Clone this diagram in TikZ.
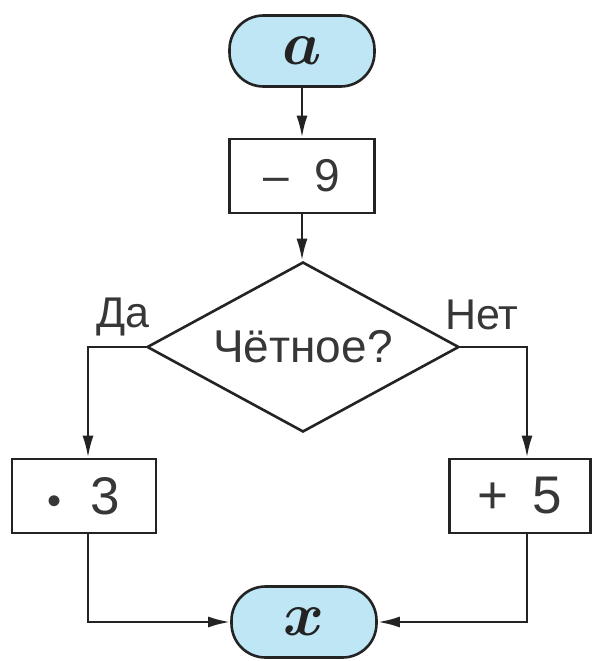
\documentclass[tikz,border=0pt]{standalone}
\usepackage{fontspec}
\setmainfont{Liberation Sans}
\usepackage{amsmath}
\usetikzlibrary{arrows.meta,shapes.geometric}
\definecolor{termfill}{RGB}{190,230,244}
\definecolor{ink}{RGB}{35,35,35}
\definecolor{txt}{RGB}{55,55,55}
\begin{document}
\begin{tikzpicture}[x=1pt,y=-1pt,
  line/.style={draw=ink,line width=2.6pt},
  arr/.style={line,-{Latex[length=22pt,width=11pt]}},
  term/.style={draw=ink,line width=2.6pt,fill=termfill,rounded corners=34pt,
    minimum width=145pt,minimum height=71pt,inner sep=0pt,text=ink},
  opbox/.style={draw=ink,line width=2.6pt,fill=white,minimum height=74pt,inner sep=0pt,text=txt},
  cond/.style={diamond,draw=ink,line width=2.6pt,aspect=1.835,minimum width=312pt,
    minimum height=170pt,inner sep=0pt,font=\fontsize{46}{46}\selectfont,text=txt},
  lbl/.style={font=\fontsize{43}{43}\selectfont,text=txt,inner sep=0pt,anchor=base}]
\useasboundingbox (0,0) rectangle (594,661);

\node[term] (a) at (302,51) {\scalebox{6.2}{$\boldsymbol{a}$}};
\node[opbox,minimum width=145pt,font=\fontsize{46}{46}\selectfont] (m9) at (302,176) {–\hspace{0.55em}9};
\node[cond] (dec) at (303,347) {Чётное?};
\node[opbox,minimum width=144pt,font=\fontsize{53}{53}\selectfont] (mul) at (84,496) {{\fontsize{40}{40}\selectfont •}\hspace{0.55em}3};
\node[opbox,minimum width=141pt,font=\fontsize{53}{53}\selectfont] (plus) at (520,496) {+\hspace{0.45em}5};
\node[term] (x) at (304,622) {\scalebox{6.2}{$\boldsymbol{x}$}};

\node[lbl] (yes) at (123,327) {Да};
\node[lbl] (no) at (482,329) {Нет};

\draw[arr] (a) -- (m9);
\draw[arr] (m9.south) -- (m9.south |- dec.north);
\draw[arr] (dec.west) -| ([xshift=4pt]mul.north);
\draw[arr] (dec.east) -| ([xshift=7pt]plus.north);
\draw[arr] ([xshift=4pt]mul.south) |- (x.west);
\draw[arr] ([xshift=7pt]plus.south) |- (x.east);
\end{tikzpicture}
\end{document}
